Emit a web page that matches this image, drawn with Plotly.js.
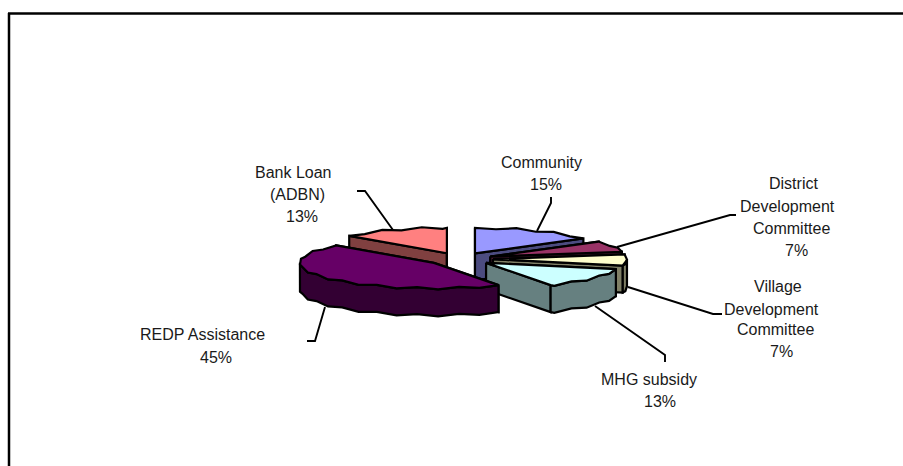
<!DOCTYPE html>
<html>
<head>
<meta charset="utf-8">
<script src="https://cdn.plot.ly/plotly-3.0.1.min.js"></script>
<style>html,body{margin:0;padding:0;background:#fff}#chart{width:903px;height:466px}</style>
</head>
<body>
<div id="chart"></div>
<script>
// Funding sources of the micro-hydro scheme, in percent, clockwise from 12 o'clock
const categories = ['Community', 'District Development Committee', 'Village Development Committee', 'MHG subsidy', 'REDP Assistance', 'Bank Loan (ADBN)'];
const shares = [15, 7, 7, 13, 45, 13];
const topColors = ['#9999FF', '#993366', '#FFFFCC', '#CCFFFF', '#660066', '#FF8080'];
const wallColors = ['#4C4C80', '#4D1A33', '#808066', '#668080', '#330033', '#804040'];
// Back-to-front paint order (slice indexes)
const paintOrder = [5, 0, 1, 2, 3, 4];

// Label lines per slice, the last line being the percentage: [text, x, y]
const labelLines = [
  [['Community', 541, 162], ['%', 546, 184]],
  [['District', 793, 183], ['Development', 787, 206], ['Committee', 791, 228], ['%', 796.5, 250]],
  [['Village', 778, 286], ['Development', 771, 309], ['Committee', 775, 329], ['%', 781, 351]],
  [['MHG subsidy', 649, 379], ['%', 660, 401]],
  [['REDP Assistance', 202, 334], ['%', 216, 357]],
  [['Bank Loan', 293, 172], ['(ADBN)', 297, 194], ['%', 302, 216]]
];
// Elbow leaders: x and y runs from the slice out to the label
const leaderX = [[537, 551, 551], [617, 730, 736], [628, 713, 722], [595, 665, 665], [325, 315, 307], [393, 365, 357]];
const leaderY = [[231, 203, 197], [247, 215, 215], [287, 314, 314], [306, 355, 362], [307, 341, 341], [230, 191, 191]];

// Pie projection: centre, radius, vertical squash, thickness, explosion distance
const cx = 460, cy = 259, radius = 134, squash = 0.19, depth = 27, explode = 33;
const STEP = 9, JAG = 1;

const rad = d => d * Math.PI / 180;
const project = (c, deg, r) => [c[0] + r * Math.sin(rad(deg)), c[1] - r * squash * Math.cos(rad(deg))];

// Rim vertices between two angles; the slight alternating offset gives the scalloped edge
function arc(c, a0, a1) {
  const pts = [];
  let k = 0;
  for (let a = a0; a < a1; a += STEP, k++) {
    const p = project(c, a, radius);
    if (a !== a0) p[1] += (k % 2 ? JAG : -JAG);
    pts.push(p);
  }
  pts.push(project(c, a1, radius));
  return pts;
}

function poly(pts, fill) {
  const xs = pts.map(p => p[0]), ys = pts.map(p => p[1]);
  xs.push(xs[0]); ys.push(ys[0]);
  return {
    x: xs, y: ys, mode: 'lines', fill: 'toself', fillcolor: fill,
    line: {color: '#000', width: 2.2, shape: 'linear'},
    hoverinfo: 'skip', showlegend: false
  };
}
const drop = p => [p[0], p[1] + depth];

const total = shares.reduce((s, v) => s + v, 0);
const spans = [];
shares.reduce((start, v) => {
  const end = start + v / total * 360;
  spans.push([start, end]);
  return end;
}, 0);

const traces = [];
paintOrder.forEach(i => {
  const [a0, a1] = spans[i];
  const mid = (a0 + a1) / 2;
  const c = project([cx, cy], mid, explode);
  const startP = project(c, a0, radius), endP = project(c, a1, radius);
  // cut faces
  traces.push(poly([c, startP, drop(startP), drop(c)], wallColors[i]));
  traces.push(poly([c, endP, drop(endP), drop(c)], wallColors[i]));
  // outer wall: only the part of the rim facing the viewer
  const f0 = Math.max(a0, 90), f1 = Math.min(a1, 270);
  if (f1 > f0) {
    const rim = arc(c, f0, f1);
    traces.push(poly(rim.concat(rim.slice().reverse().map(drop)), wallColors[i]));
  }
  // top face
  traces.push(poly([c].concat(arc(c, a0, a1)), topColors[i]));
});

// Leader lines
leaderX.forEach((xs, i) => traces.push({
  x: xs, y: leaderY[i], mode: 'lines', line: {color: '#000', width: 1.9},
  hoverinfo: 'skip', showlegend: false
}));

const annotations = [];
labelLines.forEach((lines, i) => lines.forEach(([text, x, y]) => annotations.push({
  x, y, xref: 'x', yref: 'y', showarrow: false, xanchor: 'center', yanchor: 'middle',
  text: text === '%' ? shares[i] + '%' : text,
  font: {family: '"Liberation Sans", Arial, sans-serif', size: 16, color: '#1a1a1a'}
})));

const layout = {
  width: 903, height: 466,
  margin: {l: 0, r: 0, t: 0, b: 0},
  paper_bgcolor: '#fff', plot_bgcolor: '#fff',
  xaxis: {range: [0, 903], visible: false, fixedrange: true},
  yaxis: {range: [466, 0], visible: false, fixedrange: true},
  annotations,
  // chart-area border along the top and left
  shapes: [
    {type: 'line', xref: 'paper', yref: 'paper', x0: 8 / 903, x1: 1, y0: 1 - 13.5 / 466, y1: 1 - 13.5 / 466, line: {color: '#000', width: 2.5}},
    {type: 'line', xref: 'paper', yref: 'paper', x0: 9 / 903, x1: 9 / 903, y0: 0, y1: 1 - 13 / 466, line: {color: '#000', width: 2.5}}
  ]
};

Plotly.newPlot('chart', traces, layout, {staticPlot: true, displayModeBar: false});
</script>
</body>
</html>
